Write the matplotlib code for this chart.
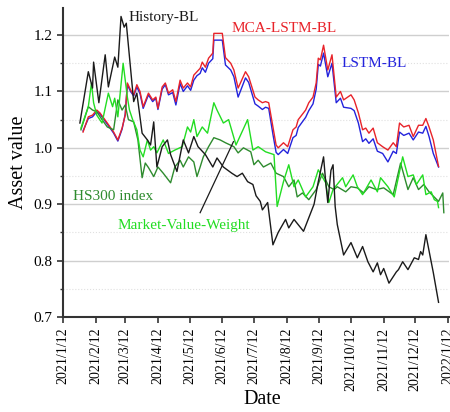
#! /usr/bin/env python3
import numpy as np
import pandas as pd
import matplotlib
matplotlib.use('Agg')
import matplotlib.pyplot as plt
import matplotlib.dates as mdates
from matplotlib.ticker import MultipleLocator

plt.rcParams['font.family'] = ['Liberation Serif', 'DejaVu Serif']

start = pd.Timestamp('2021-01-12')

#############################################
## series (days counted from 2021/1/12)
mca_days = [19, 24, 28, 32, 35, 42, 48, 52, 56, 59, 61, 64, 67, 70, 73, 76, 81, 85, 88, 90,
            94, 97, 100, 104, 107, 111, 114, 118, 121, 124, 127, 130, 132, 135, 138, 142, 143, 151, 154, 159,
            162, 166, 173, 176, 182, 185, 189, 192, 195, 199, 202, 204, 209, 213, 218, 221, 223, 230, 233, 237,
            240, 242, 244, 247, 251, 255, 259, 263, 266, 273, 276, 280, 284, 287, 290, 294, 298, 303, 308, 313,
            316, 319, 323, 328, 332, 337, 341, 344, 347, 351, 356]
mca = [1.028, 1.055, 1.058, 1.067, 1.062, 1.044, 1.028, 1.014, 1.035, 1.058,
       1.115, 1.103, 1.094, 1.112, 1.100, 1.073, 1.097, 1.085, 1.090, 1.070,
       1.108, 1.115, 1.097, 1.103, 1.082, 1.120, 1.106, 1.115, 1.108, 1.129,
       1.135, 1.141, 1.152, 1.143, 1.159, 1.168, 1.203, 1.203, 1.160, 1.150,
       1.138, 1.106, 1.135, 1.126, 1.090, 1.085, 1.080, 1.082, 1.080, 1.037,
       1.005, 1.000, 1.009, 1.002, 1.032, 1.037, 1.050, 1.067, 1.080, 1.090,
       1.115, 1.159, 1.156, 1.182, 1.138, 1.165, 1.090, 1.100, 1.085, 1.094,
       1.085, 1.062, 1.032, 1.035, 1.026, 1.035, 1.009, 1.002, 0.996, 1.009,
       1.002, 1.044, 1.037, 1.040, 1.020, 1.040, 1.040, 1.052, 1.037, 1.014,
       0.967]

lstm_days = mca_days
lstm = [1.030, 1.052, 1.055, 1.064, 1.060, 1.042, 1.026, 1.012, 1.033, 1.060,
        1.112, 1.100, 1.092, 1.108, 1.096, 1.070, 1.094, 1.082, 1.088, 1.068,
        1.104, 1.112, 1.094, 1.098, 1.076, 1.114, 1.100, 1.110, 1.102, 1.120,
        1.128, 1.132, 1.142, 1.134, 1.150, 1.158, 1.191, 1.191, 1.147, 1.138,
        1.126, 1.090, 1.124, 1.116, 1.078, 1.074, 1.068, 1.072, 1.070, 1.024,
        0.992, 0.988, 0.997, 0.990, 1.018, 1.022, 1.036, 1.054, 1.066, 1.078,
        1.104, 1.148, 1.145, 1.168, 1.126, 1.150, 1.080, 1.088, 1.072, 1.070,
        1.066, 1.044, 1.011, 1.016, 1.008, 1.016, 0.994, 0.990, 0.975, 0.994,
        0.990, 1.028, 1.022, 1.026, 1.014, 1.028, 1.026, 1.038, 1.020, 0.990,
        0.966]

hist_days = [16, 24, 28, 29, 34, 40, 43, 49, 52, 55, 58, 60, 67, 70, 75, 80, 83, 86, 89, 94,
             99, 102, 108, 114, 119, 124, 128, 135, 142, 146, 152, 160, 165, 170, 175, 180, 183, 187, 189, 194,
             199, 204, 211, 214, 219, 228, 238, 242, 247, 249, 251, 254, 256, 258, 260, 266, 273, 279, 284, 289,
             294, 298, 301, 304, 309, 316, 318, 322, 327, 333, 337, 339, 341, 344, 351, 356]
hist = [1.044, 1.135, 1.106, 1.152, 1.080, 1.165, 1.108, 1.161, 1.143, 1.233,
        1.214, 1.221, 1.082, 1.097, 1.026, 1.014, 1.005, 1.046, 0.966, 1.002,
        1.014, 0.988, 0.958, 1.014, 0.991, 1.020, 1.002, 0.988, 0.966, 0.982,
        0.966, 0.955, 0.949, 0.955, 0.940, 0.935, 0.915, 0.905, 0.890, 0.903,
        0.828, 0.850, 0.873, 0.858, 0.873, 0.852, 0.900, 0.940, 0.984, 0.940,
        0.903, 0.960, 0.970, 0.896, 0.864, 0.810, 0.832, 0.805, 0.825, 0.798,
        0.780, 0.796, 0.775, 0.786, 0.760, 0.780, 0.784, 0.798, 0.784, 0.805,
        0.802, 0.816, 0.810, 0.846, 0.779, 0.726]

mvw_days = [17, 24, 27, 29, 32, 37, 43, 47, 49, 52, 57, 61, 63, 66, 70, 73, 76, 80, 83, 86,
            89, 95, 100, 106, 113, 118, 121, 124, 127, 132, 137, 143, 146, 152, 157, 164, 175, 180, 185, 192,
            200, 203, 209, 214, 219, 223, 230, 237, 242, 249, 252, 256, 265, 268, 275, 279, 284, 292, 298, 301,
            308, 314, 322, 327, 332, 335, 341, 344, 349, 352, 355, 356]
mvw = [1.035, 1.073, 1.115, 1.080, 1.058, 1.044, 1.097, 1.073, 1.088, 1.055,
       1.150, 1.090, 1.067, 1.050, 1.032, 0.996, 0.984, 1.014, 0.996, 1.002,
       0.991, 1.014, 0.990, 0.996, 1.002, 1.037, 1.028, 1.050, 1.020, 1.037,
       1.026, 1.080, 1.067, 1.044, 1.050, 1.005, 1.050, 0.996, 1.002, 0.993,
       0.988, 0.896, 0.940, 0.970, 0.931, 0.943, 0.913, 0.931, 0.961, 0.938,
       0.903, 0.926, 0.947, 0.931, 0.952, 0.931, 0.917, 0.943, 0.922, 0.947,
       0.931, 0.913, 0.984, 0.949, 0.952, 0.935, 0.952, 0.917, 0.922, 0.908,
       0.905, 0.894]

hs300_days = [17, 24, 28, 32, 37, 42, 48, 52, 56, 59, 62, 67, 71, 75, 78, 81, 86, 90, 95, 102,
              106, 111, 114, 119, 124, 127, 130, 133, 138, 143, 149, 154, 162, 166, 171, 178, 181, 185, 190, 197,
              202, 209, 214, 219, 222, 227, 233, 240, 246, 252, 257, 260, 268, 273, 279, 285, 290, 297, 304, 313,
              320, 327, 332, 337, 342, 347, 356, 360, 361]
hs300 = [1.032, 1.073, 1.067, 1.064, 1.050, 1.037, 1.032, 1.085, 1.067, 1.076,
         1.050, 1.046, 1.014, 0.947, 0.973, 0.965, 0.949, 0.966, 0.955, 0.938,
         0.966, 0.978, 0.966, 0.984, 0.975, 0.949, 0.966, 0.984, 1.002, 1.018,
         1.014, 1.009, 1.002, 0.991, 1.000, 0.993, 0.970, 0.978, 0.966, 0.973,
         0.955, 0.949, 0.931, 0.943, 0.913, 0.920, 0.908, 0.926, 0.955, 0.931,
         0.926, 0.931, 0.922, 0.931, 0.929, 0.920, 0.931, 0.926, 0.929, 0.917,
         0.973, 0.926, 0.947, 0.926, 0.935, 0.922, 0.905, 0.920, 0.885]

tick_labels = ['2021/1/12', '2021/2/12', '2021/3/12', '2021/4/12', '2021/5/12', '2021/6/12',
               '2021/7/12', '2021/8/12', '2021/9/12', '2021/10/12', '2021/11/12', '2021/12/12',
               '2022/1/12']


def to_dates(days):
    return start + pd.to_timedelta(days, unit='D')


#############################################
## Asset value curves
fig = plt.figure(figsize=(4.5, 4.12), dpi=100)
ax1 = fig.add_axes([0.14, 0.2306, 0.858, 0.75])

ax1.plot(to_dates(lstm_days), lstm, color='#2323DC', linewidth=1.0)
ax1.plot(to_dates(mca_days), mca, color='#E8232A', linewidth=1.0)
ax1.plot(to_dates(hs300_days), hs300, color='#2E8B2E', linewidth=1.0)
ax1.plot(to_dates(mvw_days), mvw, color='#22DD22', linewidth=1.0)
ax1.plot(to_dates(hist_days), hist, color='#1A1A1A', linewidth=1.0)

ax1.text(to_dates([62])[0], 1.232, 'History-BL', color='#1A1A1A', fontsize=11, va='center')
ax1.text(to_dates([160])[0], 1.211, 'MCA-LSTM-BL', color='#E8232A', fontsize=11, va='center')
ax1.text(to_dates([264])[0], 1.150, 'LSTM-BL', color='#2323DC', fontsize=11, va='center')
ax1.text(to_dates([9.5])[0], 0.913, 'HS300 index', color='#2E8B2E', fontsize=11, va='center')
ax1.text(to_dates([52])[0], 0.862, 'Market-Value-Weight', color='#22DD22', fontsize=11, va='center')
ax1.plot(to_dates([130, 161.6]), [0.885, 1.011], color='#1A1A1A', linewidth=0.9)

ax1.set_ylim(0.7, 1.248)
ax1.set_xlim(start, pd.Timestamp('2022-01-13'))
ax1.yaxis.set_major_locator(MultipleLocator(0.1))
ax1.yaxis.set_minor_locator(MultipleLocator(0.05))
ax1.yaxis.set_major_formatter(matplotlib.ticker.FormatStrFormatter('%.1f'))
ax1.grid(axis='y', which='major', color='#cfcfcf', linewidth=1.0)
ax1.grid(axis='y', which='minor', color='#e0e0e0', linewidth=0.8, linestyle=':')
ax1.set_axisbelow(True)

tick_dates = pd.to_datetime(tick_labels, format='%Y/%m/%d')
ax1.set_xticks(tick_dates)
ax1.set_xticklabels(tick_labels, rotation=90, fontsize=10)
ax1.tick_params(axis='y', labelsize=11)
ax1.tick_params(which='major', direction='out', length=4, width=1.2, color='#333333')
ax1.tick_params(which='minor', direction='out', length=2, width=1.0, color='#333333')

for side in ['top', 'right']:
    ax1.spines[side].set_visible(False)
for side in ['left', 'bottom']:
    ax1.spines[side].set_linewidth(1.5)
    ax1.spines[side].set_color('#333333')

ax1.set_ylabel('Asset value', fontsize=14.5)
ax1.set_xlabel('Date', fontsize=14.5)
ax1.xaxis.set_label_coords(0.515, -0.235)

fig.savefig('out.png', dpi=100)
